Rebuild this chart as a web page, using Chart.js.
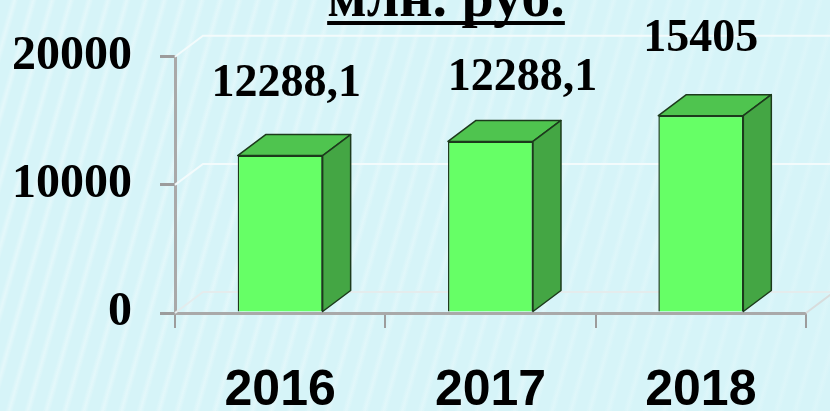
<!DOCTYPE html>
<html>
<head>
<meta charset="utf-8">
<script src="https://cdn.jsdelivr.net/npm/chart.js@4.4.1/dist/chart.umd.min.js"></script>
<style>
    html, body {
        margin: 0;
        padding: 0;
    }
    body {
        width: 830px;
        height: 411px;
        overflow: hidden;
        background-color: #d6f4f8;
        background-image:
            linear-gradient(90deg, rgba(214, 244, 248, 0) 0%, rgba(214, 244, 248, 0.2) 40%, rgba(214, 244, 248, 0.6) 100%),
            repeating-linear-gradient(106deg, rgba(255, 255, 255, 0) 0px, rgba(255, 255, 255, 0) 10px, rgba(255, 255, 255, 0.35) 14px, rgba(255, 255, 255, 0) 18px);
    }
</style>
</head>
<body>
<canvas id="chart" width="830" height="411"></canvas>
<script>
const years = ['2016', '2017', '2018'];
const amounts = [12288.1, 13390, 15405];
const amountLabels = ['12288,1', '12288,1', '15405'];
const yTickValues = [0, 10000, 20000];
const unitTitle = 'млн. руб.';

// 3D depth of the bars and walls
const DX = 28;
const DY = -21;
// small shifts of the value labels (x, baseline above back top edge)
const labelNudge = [[6, -39], [32, -30], [0, -44]];

const box3d = {
    id: 'box3d',
    beforeDatasetsDraw(chart) {
        const ctx = chart.ctx;
        const a = chart.chartArea;
        const y = chart.scales.y;
        ctx.save();
        ctx.lineWidth = 2;
        yTickValues.forEach(v => {
            const py = y.getPixelForValue(v);
            ctx.strokeStyle = v === 0 ? '#e4eced' : '#f3fbfc';
            ctx.beginPath();
            ctx.moveTo(a.left, py);
            ctx.lineTo(a.left + DX, py + DY);
            ctx.lineTo(chart.width, py + DY);
            ctx.stroke();
        });
        // right edge of the floor
        const y0 = y.getPixelForValue(0);
        ctx.strokeStyle = '#d8dcdc';
        ctx.beginPath();
        ctx.moveTo(a.right, y0);
        ctx.lineTo(a.right + DX, y0 + DY);
        ctx.stroke();
        ctx.restore();
    },
    afterDatasetsDraw(chart) {
        const ctx = chart.ctx;
        const bars = chart.getDatasetMeta(0).data;
        ctx.save();
        ctx.lineWidth = 1.5;
        ctx.strokeStyle = '#1c3a1c';
        ctx.lineJoin = 'round';
        bars.forEach((bar, i) => {
            const l = bar.x - bar.width / 2;
            const r = bar.x + bar.width / 2;
            const t = bar.y;
            const b = bar.base;
            // top face
            ctx.fillStyle = '#4fc44f';
            ctx.beginPath();
            ctx.moveTo(l, t);
            ctx.lineTo(l + DX, t + DY);
            ctx.lineTo(r + DX, t + DY);
            ctx.lineTo(r, t);
            ctx.closePath();
            ctx.fill();
            ctx.stroke();
            // side face
            ctx.fillStyle = '#44a644';
            ctx.beginPath();
            ctx.moveTo(r, t);
            ctx.lineTo(r + DX, t + DY);
            ctx.lineTo(r + DX, b + DY);
            ctx.lineTo(r, b);
            ctx.closePath();
            ctx.fill();
            ctx.stroke();

            // value label
            ctx.fillStyle = '#000';
            ctx.font = 'bold 46px "Liberation Serif", "Times New Roman", serif';
            ctx.textAlign = 'center';
            ctx.textBaseline = 'alphabetic';
            ctx.fillText(amountLabels[i], bar.x + labelNudge[i][0], t + DY + labelNudge[i][1]);
        });
        ctx.restore();
    },
    afterDraw(chart) {
        const ctx = chart.ctx;
        ctx.save();
        ctx.font = 'bold 58px "Liberation Serif", "Times New Roman", serif';
        ctx.fillStyle = '#000';
        ctx.textAlign = 'center';
        ctx.textBaseline = 'alphabetic';
        const cx = 446;
        ctx.fillText(unitTitle, cx, 16);
        const w = ctx.measureText(unitTitle).width;
        ctx.fillRect(cx - w / 2, 21, w, 4);
        ctx.restore();
    }
};

new Chart(document.getElementById('chart'), {
    type: 'bar',
    data: {
        labels: years,
        datasets: [{
            data: amounts,
            backgroundColor: '#66ff66',
            borderColor: '#1c3a1c',
            borderWidth: 1.5,
            barPercentage: 0.404,
            categoryPercentage: 1
        }]
    },
    options: {
        responsive: false,
        animation: false,
        devicePixelRatio: 1,
        layout: {
            padding: { top: 53, right: 24, left: 0, bottom: 0 }
        },
        plugins: {
            legend: { display: false },
            tooltip: { enabled: false },
            title: { display: false }
        },
        scales: {
            x: {
                offset: true,
                grid: {
                    offset: true,
                    drawOnChartArea: false,
                    drawTicks: true,
                    tickLength: 15,
                    color: '#9c9c9c',
                    lineWidth: 2
                },
                border: { color: '#a9a9a9', width: 3 },
                ticks: {
                    color: '#000',
                    padding: 33,
                    font: { family: '"Liberation Sans", Arial, sans-serif', size: 50, weight: 'bold' }
                },
                afterFit(scale) {
                    scale.height = 98;
                }
            },
            y: {
                min: 0,
                max: 20000,
                afterBuildTicks(scale) {
                    scale.ticks = yTickValues.map(v => ({ value: v }));
                },
                grid: {
                    drawOnChartArea: false,
                    drawTicks: true,
                    tickLength: 15,
                    color: '#9c9c9c',
                    lineWidth: 3
                },
                border: { color: '#a9a9a9', width: 3 },
                ticks: {
                    color: '#000',
                    padding: 28,
                    callback: v => String(v),
                    font: { family: '"Liberation Serif", "Times New Roman", serif', size: 48, weight: 'bold' }
                },
                afterFit(scale) {
                    scale.width = 175;
                }
            }
        }
    },
    plugins: [box3d]
});
</script>
</body>
</html>
